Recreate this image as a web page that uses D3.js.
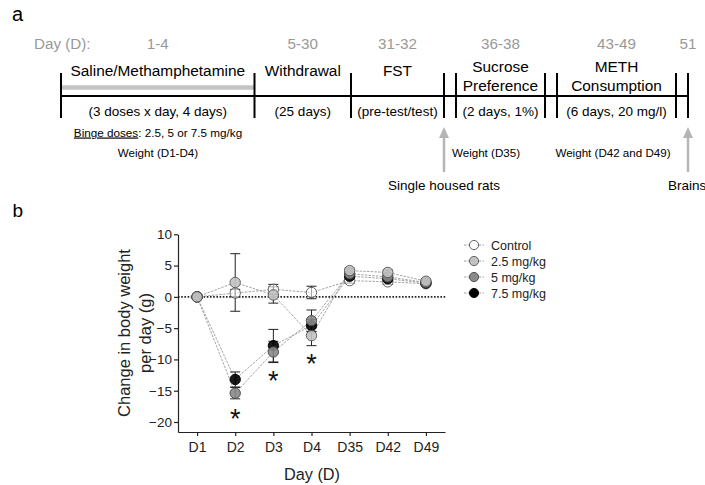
<!DOCTYPE html>
<html>
<head>
<meta charset="utf-8">
<script src="https://cdn.jsdelivr.net/npm/d3@7"></script>
<style>
  body { margin: 0; background: #fff; }
  svg { display: block; font-family: "Liberation Sans", Arial, sans-serif; }
</style>
</head>
<body>
<svg></svg>
<script>
width = 705;
height = 485;

// ---- panel a: timeline data ----
let phaseDays = ["1-4", "5-30", "31-32", "36-38", "43-49", "51"];
let phaseNames = [["Saline/Methamphetamine"], ["Withdrawal"], ["FST"], ["Sucrose", "Preference"], ["METH", "Consumption"]];
let phaseNotes = ["(3 doses x day, 4 days)", "(25 days)", "(pre-test/test)", "(2 days, 1%)", "(6 days, 20 mg/l)"];
let weightNotes = ["Weight (D1-D4)", "Weight (D35)", "Weight (D42 and D49)"];
let arrowNotes = ["Single housed rats", "Brains"];

// ---- panel b: chart data ----
let days = ["D1", "D2", "D3", "D4", "D35", "D42", "D49"];
let yTicks = [-20, -15, -10, -5, 0, 5, 10];
let groups = ["Control", "2.5 mg/kg", "5 mg/kg", "7.5 mg/kg"];
let control = [0, 0.6, 1.2, 0.7, 2.6, 2.4, 2.1];
let dose25 = [0, 2.3, 0.3, -6.2, 4.2, 3.9, 2.5];
let dose5 = [0, -15.4, -8.8, -3.8, 3.7, 3.2, 2.3];
let dose75 = [0, -13.2, -7.8, -4.6, 3.3, 2.9, 2.2];
let controlSem = [0, 0.6, 0.8, 1.0, 0.4, 0.4, 0.3];
let dose25Sem = [0, 4.6, 1.3, 1.6, 0.4, 0.4, 0.3];
let dose5Sem = [0, 0.9, 1.7, 1.7, 0.4, 0.4, 0.3];
let dose75Sem = [0, 1.2, 2.6, 1.0, 0.4, 0.4, 0.3];
let starDays = ["D2", "D3", "D4"];
let starLevels = [-18.4, -12.4, -9.6];

let svg = d3.select("svg").attr("width", width).attr("height", height);
svg.append("rect").attr("width", width).attr("height", height).style("fill", "white");

// ================= panel a =================
let tl = svg.append("g");
let segs = [[61, 254.5], [254.5, 351], [351, 444], [456, 545], [557, 676]];
let lastTick = 688;
let lineY = 96;

tl.append("text").attr("x", 12).attr("y", 21).style("font-size", "20px").text("a");

tl.append("text").attr("x", 34).attr("y", 48.5)
    .style("font-size", "15.2px").style("fill", "#999").text("Day (D):");

// grey dosing bar
tl.append("line")
    .attr("x1", segs[0][0]).attr("x2", segs[0][1])
    .attr("y1", 87.5).attr("y2", 87.5)
    .style("stroke", "#c4c4c4").style("stroke-width", 4.5);

// main line
tl.append("line")
    .attr("x1", segs[0][0]).attr("x2", lastTick)
    .attr("y1", lineY).attr("y2", lineY)
    .style("stroke", "black").style("stroke-width", 2);

let tickXs = [61, 254.5, 351, 444, 456, 545, 557, 676, 688];
tl.selectAll(".vt").data(tickXs).enter().append("line")
    .attr("x1", d => d).attr("x2", d => d)
    .attr("y1", 73).attr("y2", 118)
    .style("stroke", "black").style("stroke-width", 2);

let dayX = segs.map(s => (s[0] + s[1]) / 2).concat([lastTick]);
tl.selectAll(".dn").data(phaseDays).enter().append("text")
    .attr("x", (d, i) => dayX[i]).attr("y", 48.5)
    .attr("text-anchor", "middle")
    .style("font-size", "15.2px").style("fill", "#999")
    .text(d => d);

phaseNames.forEach(function(lines, i) {
    let y0 = lines.length == 1 ? 76 : 72;
    lines.forEach(function(t, j) {
        tl.append("text")
            .attr("x", dayX[i]).attr("y", y0 + j * 18.5)
            .attr("text-anchor", "middle")
            .style("font-size", "15.4px")
            .text(t);
    });
});

tl.selectAll(".pn").data(phaseNotes).enter().append("text")
    .attr("x", (d, i) => dayX[i]).attr("y", 115.5)
    .attr("text-anchor", "middle")
    .style("font-size", "13.5px")
    .text(d => d);

let binge = tl.append("text").attr("x", 158).attr("y", 136.5)
    .attr("text-anchor", "middle").style("font-size", "11.7px");
binge.append("tspan").style("text-decoration", "underline").text("Binge doses");
binge.append("tspan").text(": 2.5, 5 or 7.5 mg/kg");

let weightX = [158, 486, 613];
tl.selectAll(".wn").data(weightNotes).enter().append("text")
    .attr("x", (d, i) => weightX[i]).attr("y", 156.5)
    .attr("text-anchor", "middle")
    .style("font-size", "11.6px")
    .text(d => d);

// grey arrows
let arrowX = [444, 688];
arrowX.forEach(function(x) {
    tl.append("line")
        .attr("x1", x).attr("x2", x).attr("y1", 172).attr("y2", 134)
        .style("stroke", "#b5b5b5").style("stroke-width", 2.5);
    tl.append("path")
        .attr("d", "M" + (x - 5) + ",138 L" + x + ",127 L" + (x + 5) + ",138 Z")
        .style("fill", "#b5b5b5");
});
tl.append("text").attr("x", 444).attr("y", 189.5).attr("text-anchor", "middle")
    .style("font-size", "13.5px").text(arrowNotes[0]);
tl.append("text").attr("x", 668).attr("y", 189.5)
    .style("font-size", "13.5px").text(arrowNotes[1]);

// ================= panel b =================
svg.append("text").attr("x", 12.5).attr("y", 216.5).style("font-size", "19px").text("b");

let x = d3.scalePoint().domain(days).range([178, 445]).padding(0.5);
let y = d3.scaleLinear().domain([-21.6, 10]).range([432, 234.3]);

let chart = svg.append("g");

let yAxis = chart.append("g")
    .attr("transform", "translate(178,0)")
    .call(d3.axisLeft(y).tickValues(yTicks).tickSize(4).tickSizeOuter(0).tickPadding(2));
let xAxis = chart.append("g")
    .attr("transform", "translate(0,432)")
    .call(d3.axisBottom(x).tickSize(4).tickSizeOuter(0).tickPadding(6));

[yAxis, xAxis].forEach(function(a) {
    a.select(".domain").style("stroke", "#222").style("stroke-width", 1.2);
    a.selectAll(".tick line").style("stroke", "#222").style("stroke-width", 1.2);
    a.selectAll("text").style("font-family", "'Liberation Sans', Arial, sans-serif")
        .style("fill", "#222");
});
yAxis.selectAll("text").style("font-size", "13.5px");
xAxis.selectAll("text").style("font-size", "14px");

chart.append("text")
    .attr("transform", "translate(130,333) rotate(-90)")
    .attr("text-anchor", "middle")
    .style("font-size", "16.5px").style("fill", "#222")
    .text("Change in body weight");
chart.append("text")
    .attr("transform", "translate(151,333) rotate(-90)")
    .attr("text-anchor", "middle")
    .style("font-size", "16.5px").style("fill", "#222")
    .text("per day (g)");
chart.append("text")
    .attr("x", 312).attr("y", 479.5)
    .attr("text-anchor", "middle")
    .style("font-size", "16.3px").style("fill", "#222")
    .text("Day (D)");

// dotted zero line
chart.append("line")
    .attr("x1", 178).attr("x2", 446)
    .attr("y1", y(0)).attr("y2", y(0))
    .style("stroke", "#222").style("stroke-width", 1.6)
    .style("stroke-dasharray", "1.6,1.6");

let series = [
    {name: groups[0], vals: control, sem: controlSem, fill: "white", stroke: "#555"},
    {name: groups[1], vals: dose25, sem: dose25Sem, fill: "#c2c2c2", stroke: "#555"},
    {name: groups[2], vals: dose5, sem: dose5Sem, fill: "#8a8a8a", stroke: "#444"},
    {name: groups[3], vals: dose75, sem: dose75Sem, fill: "black", stroke: "black"}
];

let line = d3.line().x((d, i) => x(days[i])).y(d => y(d));

// connecting lines
series.forEach(function(s) {
    chart.append("path")
        .attr("d", line(s.vals))
        .style("fill", "none")
        .style("stroke", "#9a9a9a")
        .style("stroke-width", 0.9)
        .style("stroke-dasharray", "2.5,1.2");
});

// error bars
series.forEach(function(s) {
    let eb = chart.append("g").style("stroke", "#222").style("stroke-width", 1);
    s.vals.forEach(function(v, i) {
        if (s.sem[i] == 0) return;
        let cx = x(days[i]);
        eb.append("line").attr("x1", cx).attr("x2", cx)
            .attr("y1", y(v - s.sem[i])).attr("y2", y(v + s.sem[i]));
        eb.append("line").attr("x1", cx - 5).attr("x2", cx + 5)
            .attr("y1", y(v - s.sem[i])).attr("y2", y(v - s.sem[i]));
        eb.append("line").attr("x1", cx - 5).attr("x2", cx + 5)
            .attr("y1", y(v + s.sem[i])).attr("y2", y(v + s.sem[i]));
    });
});

// points
let drawOrder = [0, 3, 2, 1];
drawOrder.forEach(function(k) {
    let s = series[k];
    chart.selectAll(".p" + k).data(s.vals).enter().append("circle")
        .attr("cx", (d, i) => x(days[i]))
        .attr("cy", d => y(d))
        .attr("r", 5.2)
        .style("fill", s.fill)
        .style("fill-opacity", k == 0 ? 0.6 : 0.9)
        .style("stroke", s.stroke)
        .style("stroke-width", 0.9);
});

// significance stars
chart.selectAll(".star").data(starDays).enter().append("text")
    .attr("x", d => x(d))
    .attr("y", (d, i) => y(starLevels[i]) + 0.58 * 27)
    .attr("text-anchor", "middle")
    .style("font-size", "27px").style("fill", "#111")
    .text("*");

// legend
let legend = chart.append("g");
series.forEach(function(s, i) {
    let ly = 245 + i * 16;
    legend.append("line")
        .attr("x1", 464).attr("x2", 484).attr("y1", ly).attr("y2", ly)
        .style("stroke", "#9a9a9a").style("stroke-width", 0.9)
        .style("stroke-dasharray", "2.5,1.2");
    legend.append("circle")
        .attr("cx", 474).attr("cy", ly).attr("r", 4.6)
        .style("fill", s.fill).style("stroke", s.stroke).style("stroke-width", 0.9);
    legend.append("text")
        .attr("x", 491).attr("y", ly + 4.5)
        .style("font-size", "12.5px").style("fill", "#222")
        .text(s.name);
});
</script>
</body>
</html>
